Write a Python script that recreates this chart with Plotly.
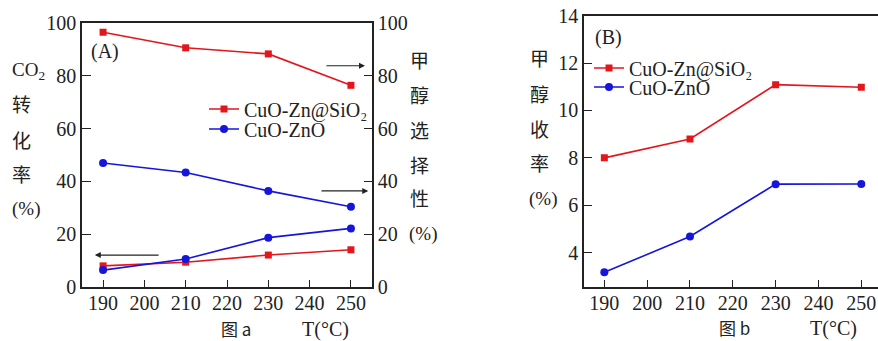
import plotly.graph_objects as go

# ---- data ----
temps = [190, 210, 230, 250]
x_ticks = [190, 200, 210, 220, 230, 240, 250]

# panel A
sel_sio2 = [96.5, 90.6, 88.3, 76.4]     # methanol selectivity (right axis)
sel_zno = [47.0, 43.4, 36.4, 30.4]
conv_sio2 = [8.0, 9.4, 12.1, 14.1]      # CO2 conversion (left axis)
conv_zno = [6.4, 10.6, 18.7, 22.2]
a_y_ticks = [0, 20, 40, 60, 80, 100]

# panel B
yield_sio2 = [8.0, 8.8, 11.09, 10.98]
yield_zno = [3.17, 4.68, 6.89, 6.9]
b_y_ticks = [4, 6, 8, 10, 12, 14]

name_sio2 = "CuO-Zn@SiO₂"
name_zno = "CuO-ZnO"

RED = "#e3161c"
BLUE = "#1515dc"
W, H = 878, 341
FONT = "Times New Roman, Liberation Serif, DejaVu Serif, serif"
CJK = "Noto Sans CJK SC"

def px(xp):
    return xp / W

def py(yp):
    return (H - yp) / H

fig = go.Figure()

mk_sq = dict(symbol="square", size=7, color=RED)
mk_ci = dict(symbol="circle", size=8, color=BLUE)
ln_r = dict(color=RED, width=1.6)
ln_b = dict(color=BLUE, width=1.6)

# panel A traces
fig.add_trace(go.Scatter(x=temps, y=sel_sio2, mode="lines+markers", name=name_sio2,
                         line=ln_r, marker=mk_sq, xaxis="x", yaxis="y2", legend="legend"))
fig.add_trace(go.Scatter(x=temps, y=sel_zno, mode="lines+markers", name=name_zno,
                         line=ln_b, marker=mk_ci, xaxis="x", yaxis="y2", legend="legend2"))
fig.add_trace(go.Scatter(x=temps, y=conv_sio2, mode="lines+markers", name=name_sio2,
                         line=ln_r, marker=mk_sq, xaxis="x", yaxis="y", showlegend=False))
fig.add_trace(go.Scatter(x=temps, y=conv_zno, mode="lines+markers", name=name_zno,
                         line=ln_b, marker=mk_ci, xaxis="x", yaxis="y", showlegend=False))

# panel B traces
fig.add_trace(go.Scatter(x=temps, y=yield_sio2, mode="lines+markers", name=name_sio2,
                         line=ln_r, marker=mk_sq, xaxis="x2", yaxis="y3", legend="legend3"))
fig.add_trace(go.Scatter(x=temps, y=yield_zno, mode="lines+markers", name=name_zno,
                         line=ln_b, marker=mk_ci, xaxis="x2", yaxis="y3", legend="legend4"))

axis_common = dict(showgrid=False, zeroline=False, showline=True, linecolor="#222",
                   linewidth=1.5, ticks="inside", tickcolor="#222", tickwidth=1.3,
                   automargin=False,
                   tickfont=dict(family=FONT, size=20, color="#222"))

def leg(xp, yp):
    return dict(x=px(xp), y=py(yp), xanchor="left", yanchor="middle",
                bgcolor="rgba(0,0,0,0)", font=dict(family=FONT, size=20, color="#222"),
                tracegroupgap=0, itemwidth=30)

fig.update_layout(
    width=W, height=H,
    margin=dict(l=0, r=0, t=0, b=0, autoexpand=False),
    paper_bgcolor="white", plot_bgcolor="white",
    font=dict(family=FONT, size=19, color="#222"),
    xaxis=dict(**axis_common, domain=[px(82), px(372)], range=[184.9, 255.1],
               tickvals=x_ticks, ticklen=7, mirror=True, anchor="y",
               ticklabelstandoff=-3),
    yaxis=dict(**axis_common, domain=[py(287), py(23)], range=[0, 100],
               tickvals=a_y_ticks, ticklen=9, anchor="x"),
    yaxis2=dict(**axis_common, range=[0, 100], tickvals=a_y_ticks, ticklen=8,
                overlaying="y", side="right", anchor="x"),
    xaxis2=dict(**axis_common, domain=[px(584), 1.0], range=[185.25, 253.9],
                tickvals=x_ticks, ticklen=7, mirror=True, anchor="y3",
                ticklabelstandoff=-3),
    yaxis3=dict(**axis_common, domain=[py(287), py(15.7)], range=[2.55, 14],
                tickvals=b_y_ticks, ticklen=8, anchor="x2"),
    legend=leg(204, 109),
    legend2=leg(204, 129),
    legend3=leg(589, 68),
    legend4=leg(589, 87),
)

ann = []

def label(text, xp, yp, size=19, family=FONT):
    ann.append(dict(text=text, x=px(xp), y=py(yp), xref="paper", yref="paper",
                    showarrow=False, xanchor="center", yanchor="middle",
                    font=dict(family=family, size=size, color="#222")))

label("(A)", 105, 52, size=20)
label("(B)", 608, 37, size=20)

# left title panel A
left_title = ["CO<sub>2</sub>", "转", "化", "率", "(%)"]
left_pos = [(28, 71), (21, 104), (21, 139), (21, 173), (26, 209)]
for t, (xx, yy) in zip(left_title, left_pos):
    label(t, xx, yy, family=CJK if t in "转化率" else FONT)

# right title panel A
right_title = ["甲", "醇", "选", "择", "性", "(%)"]
right_pos = [(419, 60), (419, 95), (419, 129), (419, 164), (419, 198), (423, 234)]
for t, (xx, yy) in zip(right_title, right_pos):
    label(t, xx, yy, family=FONT if t == "(%)" else CJK)

# title panel B
b_title = ["甲", "醇", "收", "率", "(%)"]
b_pos = [(539, 58), (539, 93), (539, 128), (539, 162), (543, 199)]
for t, (xx, yy) in zip(b_title, b_pos):
    label(t, xx, yy, family=FONT if t == "(%)" else CJK)

# bottom captions
label("图 a", 236, 328, size=17, family=CJK)
label("T(°C)", 325, 329, size=20)
label("图 b", 734, 327, size=17, family=CJK)
label("T(°C)", 833, 328, size=20)

# arrows (panel A)
arrows = [  # (x_tail, x_head, y)
    (203.8, 188.0, 12.1),
    (243.7, 253.4, 83.8),
    (242.5, 254.2, 36.4),
]
for xt, xh, yv in arrows:
    ann.append(dict(x=xh, y=yv, ax=xt, ay=yv, xref="x", yref="y", axref="x", ayref="y",
                    text="", showarrow=True, arrowhead=2, arrowsize=1.0, arrowwidth=1.2,
                    arrowcolor="#222"))

fig.update_layout(annotations=ann)

fig.write_html("out.html", config={"displayModeBar": False},
               post_script="document.body.style.margin='0';document.body.style.padding='0';")
